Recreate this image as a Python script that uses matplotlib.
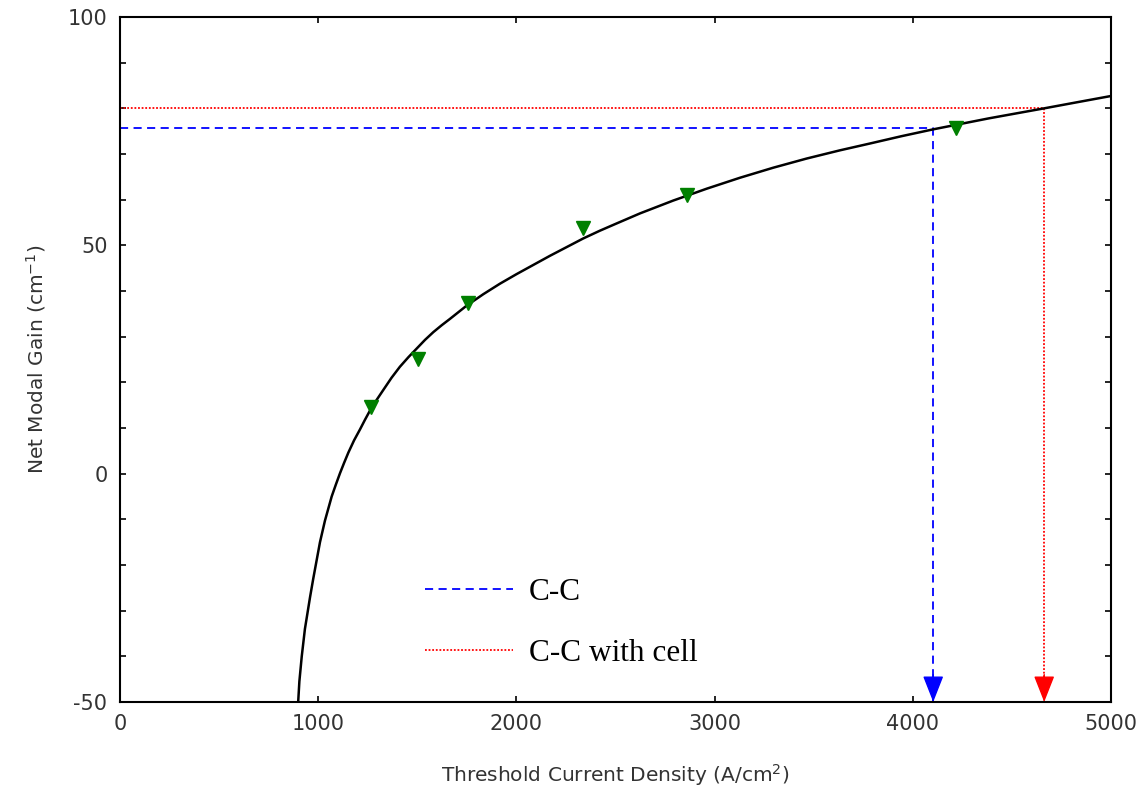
import numpy as np
import matplotlib
matplotlib.use("Agg")
import matplotlib.pyplot as plt
from matplotlib.patches import FancyArrowPatch
from matplotlib.ticker import MultipleLocator

plt.rcParams["axes.unicode_minus"] = False

# fitted gain curve
j_fit = [899, 905, 917, 933, 959, 975, 1009, 1034, 1068, 1089, 1110, 1131, 1152, 1181,
         1211, 1236, 1261, 1294, 1328, 1370, 1412, 1455, 1497, 1539, 1581, 1623, 1665,
         1707, 1749, 1833, 1917, 2001, 2085, 2169, 2253, 2337, 2421, 2506, 2624, 2791,
         2960, 3128, 3296, 3464, 3632, 3784, 3943, 4103, 4383, 4663, 4831, 5000]
g_fit = [-50, -45.5, -40.0, -34.0, -27.0, -23.0, -15.0, -10.3, -5.0, -2.4, 0.1, 2.4, 4.6, 7.3,
         9.7, 11.8, 13.8, 16.1, 18.3, 21.0, 23.4, 25.5, 27.4, 29.3, 31.0, 32.5, 33.9,
         35.35, 36.8, 39.3, 41.6, 43.7, 45.7, 47.7, 49.6, 51.5, 53.2, 54.8, 57.0, 59.8,
         62.4, 64.8, 67.0, 69.0, 70.8, 72.3, 73.9, 75.4, 77.8, 80.0, 81.35, 82.7]

# measured points
j_meas = [1265, 1505, 1757, 2337, 2859, 4218]
g_meas = [14.6, 25.0, 37.4, 53.8, 61.1, 75.7]

# threshold read-outs
cc_gain, cc_j = 75.8, 4103
cell_gain, cell_j = 80.0, 4663

xmin, xmax = 0, 5000
ymin, ymax = -50, 100

fig = plt.figure(figsize=(11.42, 7.93), dpi=100)
ax = fig.add_axes([120 / 1142, 1 - 702 / 793, 991 / 1142, 685 / 793])

ax.plot(j_fit, g_fit, color="black", lw=1.8, zorder=3)
ax.plot(j_meas, g_meas, linestyle="none", marker="v", ms=10.5, color="#008000", zorder=4)

l1, = ax.plot([xmin, cc_j, cc_j], [cc_gain, cc_gain, ymin], color="blue", lw=1.3,
              dashes=(4.5, 3), label="C-C", zorder=2)
l2, = ax.plot([xmin, cell_j, cell_j], [cell_gain, cell_gain, ymin], color="red", lw=1.3,
              linestyle=(0, (1, 1)), label="C-C with cell", zorder=2)

for xj, col in [(cc_j, "blue"), (cell_j, "red")]:
    arr = FancyArrowPatch((xj, ymin + 6), (xj, ymin), arrowstyle="-|>,head_length=16.5,head_width=6.5",
                          mutation_scale=1, color=col, lw=1.0, shrinkA=0, shrinkB=0,
                          clip_on=False, zorder=5)
    ax.add_patch(arr)

ax.set_xlim(xmin, xmax)
ax.set_ylim(ymin, ymax)
ax.xaxis.set_major_locator(MultipleLocator(1000))
ax.yaxis.set_major_locator(MultipleLocator(50))
ax.yaxis.set_minor_locator(MultipleLocator(10))

tick_color = "#333333"
ax.tick_params(which="both", direction="in", top=True, right=True, width=1.2,
               colors="black", labelcolor=tick_color, labelsize=15)
ax.tick_params(which="major", length=4)
ax.tick_params(which="minor", length=4)
ax.tick_params(axis="x", pad=9)
ax.tick_params(axis="y", pad=9)
for s in ax.spines.values():
    s.set_linewidth(1.5)

ax.set_xlabel("Threshold Current Density (A/cm$^2$)", fontsize=14.5, color=tick_color, labelpad=20)
ax.set_ylabel("Net Modal Gain (cm$^{-1}$)", fontsize=14.5, color=tick_color, labelpad=14)

ax.legend(handles=[l1, l2], loc="upper left", bbox_to_anchor=(0.308, 0.181), frameon=False,
          prop={"family": "Liberation Serif", "size": 22.5}, handlelength=2.8,
          handletextpad=0.51, labelspacing=1.02, borderpad=0, borderaxespad=0)

fig.savefig("out.png", dpi=100)
